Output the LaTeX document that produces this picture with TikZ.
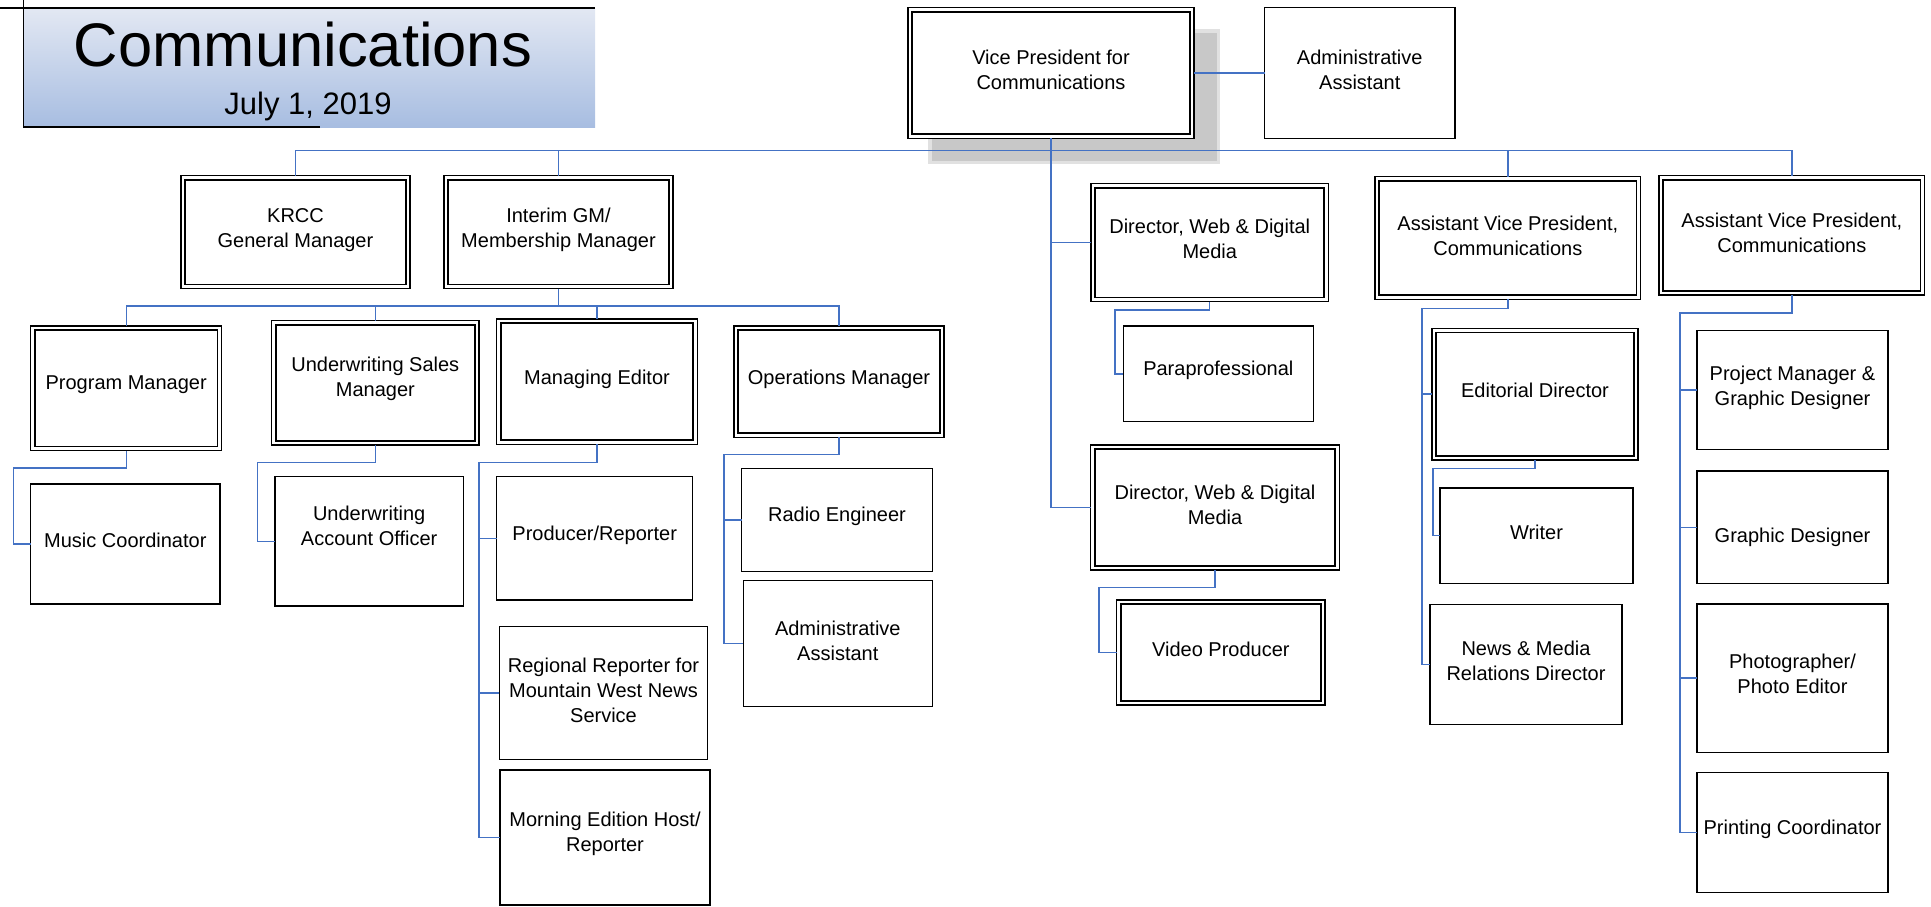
\documentclass[tikz,border=0pt]{standalone}
\usepackage{fontspec}
\setmainfont{Liberation Sans}
\definecolor{connblue}{RGB}{68,114,196}
\definecolor{titletop}{RGB}{227,232,243}
\definecolor{titlemid}{RGB}{197,210,234}
\definecolor{titlebot}{RGB}{167,189,225}
\definecolor{shadowgray}{RGB}{200,200,200}
\definecolor{shadowsoft}{RGB}{225,225,225}
\tikzset{
  conn/.style={draw=connblue, line width=1.4pt},
  sbox/.style={draw=black, line width=1.4pt, fill=white, inner sep=0pt, outer sep=0pt},
  dbox/.style={draw=black, line width=1.2pt, fill=white, inner sep=0pt, outer sep=0pt},
  innerline/.style={draw=black, line width=1.8pt},
  boxtext/.style={font=\fontsize{20}{25}\selectfont, align=center, inner sep=0pt},
  titleline/.style={draw=black, line width=1.3pt},
}
% #1 style, #2 name, #3 x1, #4 y1, #5 x2, #6 y2, #7 text, #8 text y
\newcommand\orgbox[8]{%
  \node[#1, minimum width={#5-#3}, minimum height={#6-#4}] (#2) at ({(#3+#5)/2},{(#4+#6)/2}) {};
  \node[boxtext] (#2-t) at ({(#3+#5)/2},#8) {#7};
}
\newcommand\dorgbox[7]{%
  \orgbox{dbox}{#1}{#2}{#3}{#4}{#5}{#6}{#7}
  \draw[innerline] ([xshift=4.3pt,yshift=-4.3pt]#1.north west) rectangle ([xshift=-4.3pt,yshift=4.3pt]#1.south east);
}
\newcommand\sorgbox[7]{\orgbox{sbox}{#1}{#2}{#3}{#4}{#5}{#6}{#7}}
\begin{document}
\begin{tikzpicture}[x=1pt,y=-1pt]
\useasboundingbox (0,0) rectangle (1931,906);
% title block
\shade[top color=titletop, middle color=titlemid, bottom color=titlebot] (23.7,8) rectangle (595,127);
\draw[titleline] (0,8) -- (595,8);
\draw[titleline] (23.7,0) -- (23.7,127) -- (320,127);
\node[anchor=base, font=\fontsize{61.5}{68}\selectfont, inner sep=0pt] (title) at (303,66) {Communications};
\node[anchor=base, font=\fontsize{31}{35}\selectfont, inner sep=0pt] (date) at (308,114) {July 1, 2019};
% shadow of VP box
\fill[shadowsoft] (928,29) rectangle (1220,164);
\fill[shadowgray] (931.5,32.5) rectangle (1216.5,160.5);
% boxes
\dorgbox{vp}{908}{7.3}{1194}{138.3}{Vice President for\\Communications}{70}
\sorgbox{adm}{1264.5}{7.3}{1455}{138.3}{Administrative\\Assistant}{70}
\dorgbox{krcc}{181}{175.7}{410}{288.7}{KRCC\\General Manager}{230}
\dorgbox{igm}{444}{175.7}{673}{288.7}{Interim GM/\\Membership Manager}{230}
\dorgbox{dira}{1091}{183.3}{1328.5}{301.7}{Director, Web \& Digital\\Media}{239}
\dorgbox{avpa}{1375}{176.7}{1640.7}{299.3}{Assistant Vice President,\\Communications}{235.5}
\dorgbox{avpb}{1659}{175.7}{1924.7}{295}{Assistant Vice President,\\Communications}{232.5}
\dorgbox{pm}{30.7}{326}{221.7}{450.7}{Program Manager}{385}
\dorgbox{usm}{271.7}{320.7}{479}{445}{Underwriting Sales\\Manager}{379}
\dorgbox{me}{496.7}{319}{697.3}{444.3}{Managing Editor}{379.3}
\dorgbox{om}{734}{326}{944}{437.3}{Operations Manager}{379.3}
\sorgbox{mc}{30.7}{484}{220}{604}{Music Coordinator}{540.7}
\sorgbox{uao}{275}{476.7}{463.3}{606}{Underwriting\\Account Officer}{525.8}
\sorgbox{pr}{496.7}{476.7}{692.7}{600}{Producer/Reporter}{535}
\sorgbox{rr}{499.3}{626.7}{707.7}{759.3}{Regional Reporter for\\Mountain West News\\Service}{690}
\sorgbox{meh}{500}{770}{710}{905}{Morning Edition Host/\\Reporter}{834.2}
\sorgbox{re}{741.7}{468.3}{932.3}{571.7}{Radio Engineer}{516.7}
\sorgbox{aab}{743.3}{580.7}{932.3}{706.7}{Administrative\\Assistant}{640.5}
\sorgbox{para}{1123.3}{326}{1313.3}{421.7}{Paraprofessional}{370.7}
\dorgbox{dirb}{1090.7}{445}{1339.3}{570}{Director, Web \& Digital\\Media}{505}
\dorgbox{vid}{1116.7}{600}{1325}{705}{Video Producer}{649.3}
\dorgbox{ed}{1432}{328.2}{1638}{460}{Editorial Director}{390.7}
\sorgbox{wr}{1440}{487.9}{1633}{583.5}{Writer}{532.5}
\sorgbox{nm}{1430}{604.3}{1622}{724.3}{News \& Media\\Relations Director}{661}
\sorgbox{pmgd}{1697}{330.7}{1888}{449.6}{Project Manager \&\\Graphic Designer}{388}
\sorgbox{gd}{1697}{471}{1888}{583.5}{Graphic Designer}{537}
\sorgbox{ph}{1697}{604}{1888}{752.3}{Photographer/\\Photo Editor}{674}
\sorgbox{pc}{1697}{772.7}{1888}{892.3}{Printing Coordinator}{829.3}
% routing coordinates
\coordinate (busa) at (0,150.5);
\coordinate (busb) at (0,306);
\coordinate (pm-r) at (13.3,468);
\coordinate (usm-r) at (257.3,462.3);
\coordinate (me-r) at (479,462.3);
\coordinate (om-r) at (724,454.3);
\coordinate (dira-r) at (1115,310);
\coordinate (dirb-r) at (1099,587.3);
\coordinate (avpa-r) at (1422,308.3);
\coordinate (ed-r) at (1433,468.6);
\coordinate (avpb-r) at (1680,313);
% connectors
\draw[conn] (vp.east) -- (adm.west);
\draw[conn] (krcc.north) -- (krcc.north |- busa) -- (avpb.north |- busa) -- (avpb.north);
\draw[conn] (igm.north) -- (igm.north |- busa);
\draw[conn] (avpa.north) -- (avpa.north |- busa);
\draw[conn] (vp.south) -- (vp.south |- dirb.west) -- (dirb.west);
\draw[conn] (vp.south |- dira.west) -- (dira.west);
\draw[conn] (igm.south) -- (igm.south |- busb);
\draw[conn] (pm.north) -- (pm.north |- busb) -- (om.north |- busb) -- (om.north);
\draw[conn] (usm.north) -- (usm.north |- busb);
\draw[conn] (me.north) -- (me.north |- busb);
\draw[conn] (pm.south) |- (pm-r) |- (mc.west);
\draw[conn] (usm.south) |- (usm-r) |- (uao.west);
\draw[conn] (me.south) |- (me-r) |- (meh.west);
\draw[conn] (me-r |- pr.west) -- (pr.west);
\draw[conn] (me-r |- rr.west) -- (rr.west);
\draw[conn] (om.south) |- (om-r) |- (aab.west);
\draw[conn] (om-r |- re.west) -- (re.west);
\draw[conn] (dira.south) |- (dira-r) |- (para.west);
\draw[conn] (dirb.south) |- (dirb-r) |- (vid.west);
\draw[conn] (avpa.south) |- (avpa-r) |- (nm.west);
\draw[conn] (avpa-r |- ed.west) -- (ed.west);
\draw[conn] (ed.south) |- (ed-r) |- (wr.west);
\draw[conn] (avpb.south) |- (avpb-r) |- (pc.west);
\draw[conn] (avpb-r |- pmgd.west) -- (pmgd.west);
\draw[conn] (avpb-r |- gd.west) -- (gd.west);
\draw[conn] (avpb-r |- ph.west) -- (ph.west);
\end{tikzpicture}
\end{document}
